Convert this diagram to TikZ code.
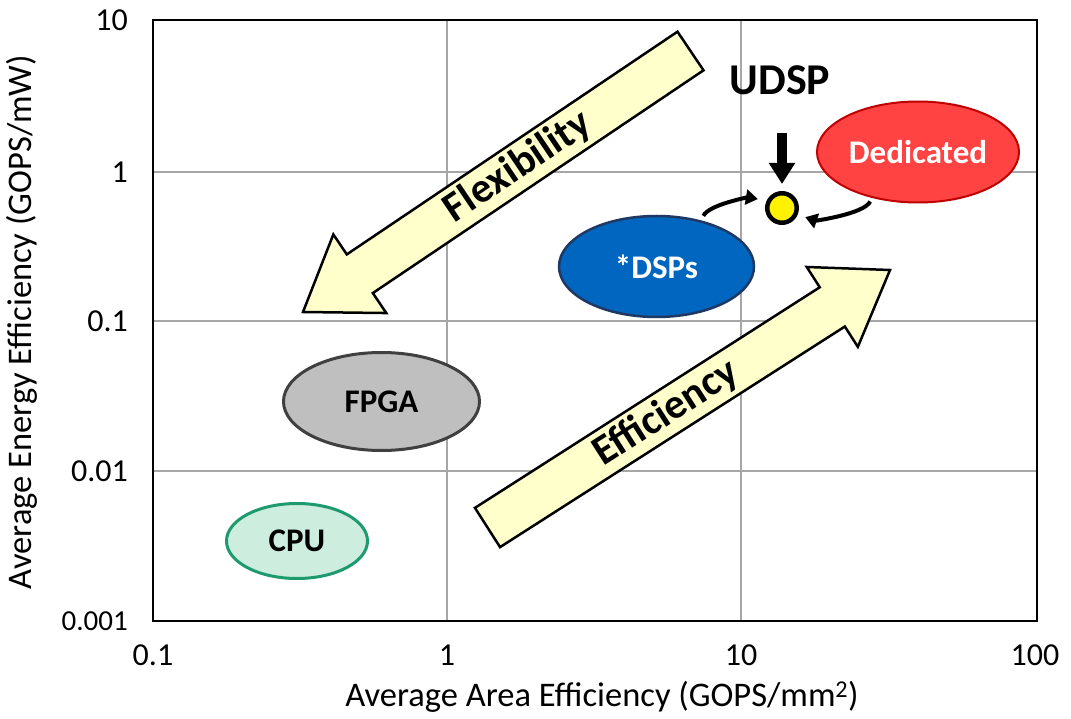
\documentclass[tikz,border=0pt]{standalone}
\usepackage{fontspec}
\setmainfont{Carlito}
\usetikzlibrary{shapes.geometric,arrows.meta,calc}

\definecolor{gridgray}{HTML}{A6A6A6}
\definecolor{arrowfill}{HTML}{FFFFCC}
\definecolor{dedfill}{HTML}{FF4343}
\definecolor{dedline}{HTML}{C00000}
\definecolor{dspfill}{HTML}{0066BF}
\definecolor{dspline}{HTML}{1F3864}
\definecolor{fpgafill}{HTML}{BFBFBF}
\definecolor{fpgaline}{HTML}{404040}
\definecolor{cpufill}{HTML}{CDEDDF}
\definecolor{cpuline}{HTML}{1E9B6E}

\newcommand{\fsz}[1]{\fontsize{#1}{#1}\selectfont}

% wide block arrow from (#1Tail) to (#1Tip)
\newcommand{\blockarrow}[1]{%
  \coordinate (#1Base) at ($(#1Tip)!68.5pt!(#1Tail)$);
  \path[bigarrow]
    ($(#1Tail)!23.3pt!90:(#1Tip)$) -- ($(#1Base)!23.3pt!90:(#1Tip)$) --
    ($(#1Base)!47.4pt!90:(#1Tip)$) -- (#1Tip) --
    ($(#1Base)!47.4pt!-90:(#1Tip)$) -- ($(#1Base)!23.3pt!-90:(#1Tip)$) --
    ($(#1Tail)!23.3pt!-90:(#1Tip)$) -- cycle;
}

\begin{document}
\begin{tikzpicture}[x=1pt,y=-1pt,
  grid line/.style={gridgray,line width=1.5pt},
  tick/.style={font=\fsz{32},inner sep=0pt},
  axis title/.style={font=\fsz{34.5},inner sep=0pt},
  class/.style={ellipse,inner sep=0pt,font=\bfseries\fsz{33},text depth=0pt,line width=2.5pt},
  bigarrow/.style={fill=arrowfill,draw=black,line width=2.5pt,line join=miter},
  arrow label/.style={font=\bfseries\fsz{42},inner sep=0pt},
  bend arrow/.style={line width=4pt,-{Triangle[length=12pt,width=15pt]}},
]
\useasboundingbox (0,0) rectangle (1071,719);
\fill[white] (0,0) rectangle (1071,719);

% grid and plot frame
\foreach \x in {447,741} \draw[grid line] (\x,20) -- (\x,621);
\foreach \y in {172,321,471} \draw[grid line] (153,\y) -- (1037,\y);
\draw[line width=2.5pt] (153,20) rectangle (1037,621);

% tick labels
\node[tick,anchor=east] (y10)   at (128,20)  {10};
\node[tick,anchor=east] (y1)    at (128,172) {1};
\node[tick,anchor=east] (y01)   at (128,321) {0.1};
\node[tick,anchor=east] (y001)  at (128,471) {0.01};
\node[tick,anchor=east,font=\fsz{29}] (y0001) at (128,621) {0.001};
\node[tick] (x01)  at (153,655)  {0.1};
\node[tick] (x1)   at (447,655)  {1};
\node[tick] (x10)  at (741,655)  {10};
\node[tick] (x100) at (1035,655) {100};

% axis titles
\node[axis title] (xTitle) at (602,697) {Average Area Efficiency (GOPS/mm\textsuperscript{2})};
\node[axis title,rotate=90] (yTitle) at (22,322) {Average Energy Efficiency (GOPS/mW)};

% trend arrows
\coordinate (flexTail) at (690.5,51);
\coordinate (flexTip)  at (303,312);
\blockarrow{flex}
\node[arrow label,rotate=33.96] (flexLabel) at ($(flexTail)!0.445!(flexTip)$) {Flexibility};

\coordinate (effTail) at (487.5,527.5);
\coordinate (effTip)  at (890,270);
\blockarrow{eff}
\node[arrow label,rotate=32.56] (effLabel) at ($(effTail)!0.444!(effTip)$) {Efficiency};

% architecture classes
\node[class,fill=dedfill,draw=dedline,text=white,line width=2pt,
      minimum width=202pt,minimum height=101pt] (ded) at (918,152) {Dedicated};
\node[class,fill=dspfill,draw=dspline,text=white,
      minimum width=195pt,minimum height=101pt] (dsp) at (656.5,266.5) {*DSPs};
\node[class,fill=fpgafill,draw=fpgaline,line width=3pt,
      minimum width=196pt,minimum height=98pt] (fpga) at (381.5,401.5) {FPGA};
\node[class,fill=cpufill,draw=cpuline,line width=3pt,
      minimum width=141pt,minimum height=75pt] (cpu) at (297,541) {CPU};

% UDSP marker
\node[font=\bfseries\fsz{44},anchor=base,inner sep=0pt] (udspLabel) at (780,95) {UDSP};
\node[circle,fill=yellow,draw=black,line width=4.5pt,minimum size=29.5pt,inner sep=0pt] (udsp) at (782,208) {};
\coordinate (dropTop) at (782,133);
\draw[line width=10pt,-{Triangle[length=21pt,width=25pt]},shorten >=7pt] (dropTop) -- (udsp);
\draw[bend arrow,shorten <=5pt,shorten >=9pt] (dsp.46) .. controls +(8,-16) and +(-18,-3) .. (udsp.154);
\draw[bend arrow,shorten <=4pt,shorten >=8pt] (ded.225) .. controls +(-8,16) and +(18,6) .. (udsp.-23);
\end{tikzpicture}
\end{document}
